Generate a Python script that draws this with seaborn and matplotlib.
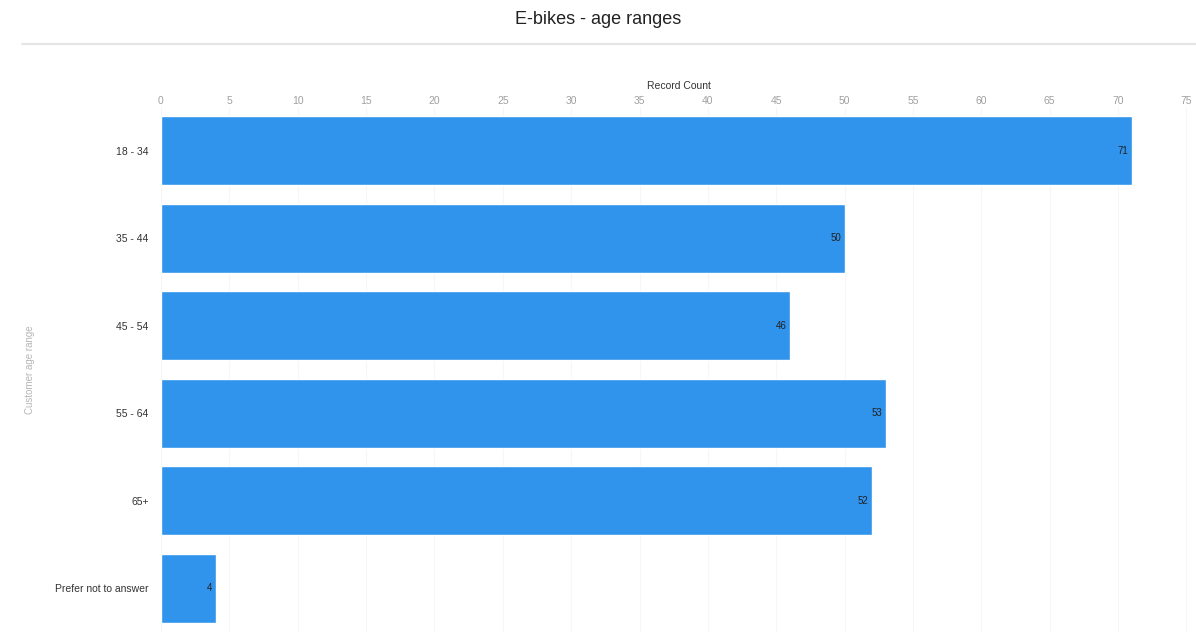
import matplotlib
matplotlib.use("Agg")
import matplotlib.pyplot as plt
import seaborn as sns
import pandas as pd

# Data
age_ranges = ["18 - 34", "35 - 44", "45 - 54", "55 - 64", "65+", "Prefer not to answer"]
record_counts = [71, 50, 46, 53, 52, 4]
x_ticks = list(range(0, 80, 5))

df = pd.DataFrame({"Customer age range": age_ranges, "Record Count": record_counts})

sns.set_theme(style="white")
plt.rcParams['font.family'] = ['Liberation Sans', 'DejaVu Sans']

fig = plt.figure(figsize=(11.96, 6.32), dpi=100)
ax = fig.add_axes([161 / 1196, 0.0, 1 - 161 / 1196, 1 - 107 / 632])

sns.barplot(data=df, x="Record Count", y="Customer age range", color="#3093EC",
            saturation=1, width=0.79, ax=ax, orient="h")

ax.set_xlim(0, 75.7)
ax.set_ylim(5.5, -0.5)
ax.xaxis.tick_top()
ax.xaxis.set_label_position("top")
ax.set_xticks(x_ticks)
ax.tick_params(axis="x", length=0, labelsize=7.5, labelcolor="#a0a0a0", pad=1)
ax.tick_params(axis="y", length=0, labelsize=7.5, labelcolor="#333333", pad=9)
ax.set_xlabel("Record Count", fontsize=7.5, color="#333333", labelpad=5)
ax.set_ylabel("Customer age range", fontsize=7, color="#b5b5b5")
ax.yaxis.set_label_coords((35 - 161) / 1035, 0.5)
ax.grid(axis="x", color="#f6f6f6", linewidth=0.8)
ax.set_axisbelow(True)
for s in ax.spines.values():
    s.set_visible(False)

for i, v in enumerate(record_counts):
    ax.text(v - 0.25, i, str(v), ha="right", va="center", fontsize=7, color="#222222")

fig.text(0.5, 1 - 19 / 632, "E-bikes - age ranges", ha="center", va="center",
         fontsize=13, color="#222222")
fig.add_artist(plt.Line2D([22 / 1196, 1.0], [1 - 44 / 632, 1 - 44 / 632],
                          color="#e6e6e6", linewidth=1.5))

fig.savefig("out.png", dpi=100)
